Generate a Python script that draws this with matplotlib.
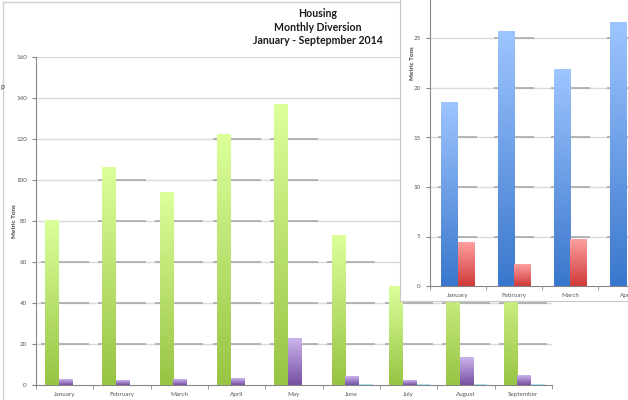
import matplotlib
matplotlib.use('Agg')
import matplotlib.pyplot as plt
from matplotlib.colors import LinearSegmentedColormap
from matplotlib.lines import Line2D
import numpy as np

plt.rcParams['font.family'] = ['Lato', 'DejaVu Sans']

# DATOS - grafico principal (Housing)
meses = ['January', 'February', 'March', 'April', 'May', 'June', 'July', 'August', 'September']
verde = [80, 106, 94, 122, 137, 73, 48, 62, 58]
morado = [2.5, 2.2, 2.5, 3, 22.5, 4, 2.2, 13.5, 4.5]
cian = [0, 0, 0, 0, 0, 0.4, 0.4, 0.4, 0.4]

# DATOS - grafico superpuesto
meses2 = ['January', 'February', 'March', 'April']
azul = [18.5, 25.7, 21.9, 26.6]
rojo = [4.4, 2.2, 4.7, 0]

titulo = 'Housing\nMonthly Diversion\nJanuary - Septepmber 2014'
ylab = 'Metric Tons'

gris_txt = '#595959'
gris_eje = '#868686'


def degradado(ax, barras, c_abajo, c_arriba, z=3):
    '''
    Pinta cada barra con un degradado vertical (claro arriba, oscuro abajo)
    '''
    cmap = LinearSegmentedColormap.from_list('g', [c_abajo, c_arriba])
    grad = np.linspace(0, 1, 100).reshape(-1, 1)
    for p in barras.patches:
        x0, y0, w, h = p.get_x(), p.get_y(), p.get_width(), p.get_height()
        if h <= 0:
            continue
        ax.imshow(grad, extent=[x0, x0 + w, y0, y0 + h], aspect='auto', cmap=cmap,
                  origin='lower', zorder=z, interpolation='bilinear')
        p.set_facecolor('none')


def rejilla(ax, niveles, valores, medio, col_claro, col_osc):
    '''
    Lineas de division claras y tramos mas oscuros detras de las barras altas
    '''
    for g in niveles:
        ax.axhline(g, color=col_claro, lw=1.0, zorder=1)
        for i, v in enumerate(valores):
            if g < v:
                ax.plot([i - medio, i + medio], [g, g], color=col_osc, lw=1.2, zorder=1.5,
                        solid_capstyle='butt')


fig = plt.figure(figsize=(6.28, 4.00), dpi=100)

# Grafico principal
ax = fig.add_axes([36 / 628, 15 / 400, 516 / 628, 328 / 400])
x = np.arange(len(meses))
w = 0.24
rejilla(ax, range(20, 161, 20), verde, 0.42, '#dadada', '#ababab')
b1 = ax.bar(x - w + 0.015, verde, w, zorder=3)
b2 = ax.bar(x + 0.015, morado, w, zorder=3)
ax.bar(x + w + 0.015, cian, w, color='#a9e2ee', zorder=3)
degradado(ax, b1, '#98c444', '#dcff9a')
degradado(ax, b2, '#7650a3', '#cbb4ec')
ax.set_xlim(-0.5, len(meses) - 0.5)
ax.set_ylim(0, 160)
ax.set_yticks(range(0, 161, 20))
ax.set_xticks(x)
ax.set_xticklabels(meses)
ax.set_xticks(np.arange(-0.5, len(meses), 1), minor=True)
ax.tick_params(axis='x', which='major', length=0, labelsize=4.5, colors=gris_txt, pad=5)
ax.tick_params(axis='x', which='minor', length=3, color=gris_eje)
ax.tick_params(axis='y', length=3, labelsize=4.5, colors=gris_txt, color=gris_eje)
for s in ['top', 'right']:
    ax.spines[s].set_visible(False)
for s in ['left', 'bottom']:
    ax.spines[s].set_color(gris_eje)
fig.text(15 / 628, 1 - 221 / 400, ylab, rotation=90, ha='center', va='center',
         fontsize=4.5, fontweight='bold', color='#404040')

fig.text(318 / 628, 1 - 8 / 400, titulo, ha='center', va='top', fontsize=7.6,
         fontweight='bold', color='#1a1a1a', linespacing=1.3)
fig.text(0.001, 1 - 87 / 400, 'p', ha='left', va='center', fontsize=5, color='#404040')

# bordes del area del grafico principal
fig.add_artist(Line2D([3 / 628, 3 / 628], [0, 1 - 2 / 400], color='#d0d0d0', lw=1))
fig.add_artist(Line2D([3 / 628, 1], [1 - 2 / 400, 1 - 2 / 400], color='#d0d0d0', lw=1))

# Grafico superpuesto (fondo blanco con borde)
fondo = fig.add_axes([400 / 628, 99 / 400, 0.5, 0.8], zorder=5)
fondo.set_xticks([])
fondo.set_yticks([])
for s in fondo.spines.values():
    s.set_color('#c8c8c8')

ax2 = fig.add_axes([429.5 / 628, 114 / 400, 4 * 56.3 / 628, 297 / 400], zorder=6)
ax2.patch.set_alpha(0)
x2 = np.arange(len(meses2))
w2 = 0.29
rejilla(ax2, range(5, 31, 5), azul, 0.35, '#dadada', '#ababab')
b3 = ax2.bar(x2 - w2 / 2, azul, w2, zorder=3)
b4 = ax2.bar(x2 + w2 / 2, rojo, w2, zorder=3)
degradado(ax2, b3, '#3a77cc', '#9dc5ff')
degradado(ax2, b4, '#cf3a3a', '#ff9f9f')
ax2.set_xlim(-0.5, len(meses2) - 0.5)
ax2.set_ylim(0, 30)
ax2.set_yticks(range(0, 26, 5))
ax2.set_xticks(x2)
ax2.set_xticklabels(meses2)
ax2.set_xticks(np.arange(-0.5, len(meses2), 1), minor=True)
ax2.tick_params(axis='x', which='major', length=0, labelsize=4.5, colors=gris_txt, pad=5)
ax2.tick_params(axis='x', which='minor', length=3, color=gris_eje)
ax2.tick_params(axis='y', length=3, labelsize=4.5, colors=gris_txt, color=gris_eje)
for s in ['top', 'right']:
    ax2.spines[s].set_visible(False)
for s in ['left', 'bottom']:
    ax2.spines[s].set_color(gris_eje)
fig.text(412 / 628, 1 - 63 / 400, ylab, rotation=90, ha='center', va='center',
         fontsize=4.5, fontweight='bold', color='#404040', zorder=7)

plt.savefig('out.png', dpi=100)
